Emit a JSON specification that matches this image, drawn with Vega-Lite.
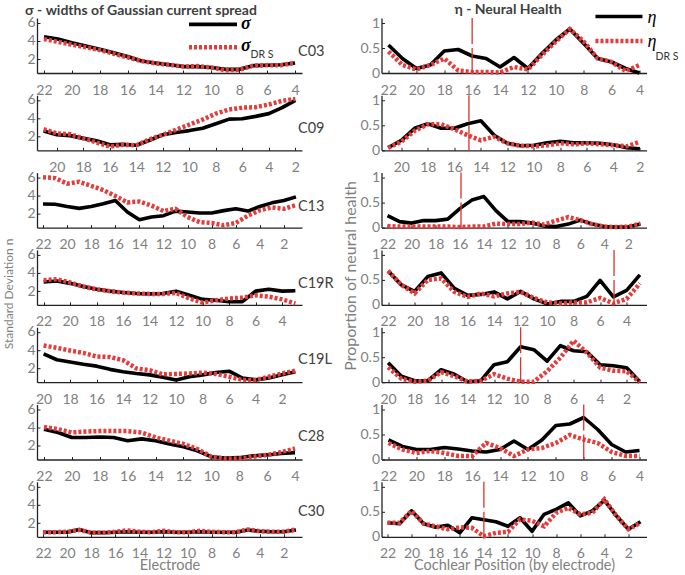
{
"$schema":"https://vega.github.io/schema/vega-lite/v6.json",
"padding":{"left":2,"top":3,"right":0,"bottom":0},
"config":{"view":{"stroke":null},"font":"Lato",
"axis":{"domainColor":"#222","domainWidth":1.3,"tickColor":"#222","tickSize":-3,"tickWidth":1,"labelColor":"#7f7f7f","labelFontSize":14,"labelFont":"Lato","grid":false,"titleColor":"#7f7f7f","titleFont":"Lato","titleFontSize":14.5,"titleFontWeight":"normal","labelPadding":5,"labelOverlap":false,"labelFlush":false},
"axisX":{"labelPadding":13},
"title":{"font":"Lato","fontSize":14,"fontWeight":"bold","color":"#404040","frame":"group"}},
"datasets":{
"sig":[
{"p":"C03","e":22,"a":4.45,"b":4.2},{"p":"C03","e":21,"a":4.2,"b":3.9},{"p":"C03","e":20,"a":3.8,"b":3.6},{"p":"C03","e":19,"a":3.45,"b":3.3},{"p":"C03","e":18,"a":3.1,"b":3.0},{"p":"C03","e":17,"a":2.7,"b":2.6},{"p":"C03","e":16,"a":2.3,"b":2.2},{"p":"C03","e":15,"a":1.8,"b":1.8},{"p":"C03","e":14,"a":1.6,"b":1.55},{"p":"C03","e":13,"a":1.4,"b":1.4},{"p":"C03","e":12,"a":1.2,"b":1.2},{"p":"C03","e":11,"a":1.2,"b":1.25},{"p":"C03","e":10,"a":1.1,"b":1.1},{"p":"C03","e":9,"a":0.9,"b":0.8},{"p":"C03","e":8,"a":0.9,"b":0.85},{"p":"C03","e":7,"a":1.3,"b":1.3},{"p":"C03","e":6,"a":1.35,"b":1.35},{"p":"C03","e":5,"a":1.4,"b":1.35},{"p":"C03","e":4,"a":1.6,"b":1.6},
{"p":"C09","e":21,"a":2.6,"b":2.8},{"p":"C09","e":20,"a":2.2,"b":2.35},{"p":"C09","e":19,"a":2.1,"b":2.25},{"p":"C09","e":18,"a":1.8,"b":1.8},{"p":"C09","e":17,"a":1.55,"b":1.35},{"p":"C09","e":16,"a":1.1,"b":0.9},{"p":"C09","e":15,"a":1.15,"b":1.1},{"p":"C09","e":14,"a":1.05,"b":1.05},{"p":"C09","e":13,"a":1.6,"b":1.7},{"p":"C09","e":12,"a":2.2,"b":2.2},{"p":"C09","e":11,"a":2.45,"b":2.75},{"p":"C09","e":10,"a":2.65,"b":3.3},{"p":"C09","e":9,"a":2.9,"b":3.85},{"p":"C09","e":8,"a":3.4,"b":4.5},{"p":"C09","e":7,"a":3.9,"b":4.95},{"p":"C09","e":6,"a":3.95,"b":5.15},{"p":"C09","e":5,"a":4.2,"b":5.2},{"p":"C09","e":4,"a":4.5,"b":5.5},{"p":"C09","e":3,"a":5.15,"b":5.9},{"p":"C09","e":2,"a":5.95,"b":6.1},
{"p":"C13","e":22,"a":3.07,"b":6.0},{"p":"C13","e":21,"a":3.05,"b":5.9},{"p":"C13","e":20,"a":2.8,"b":5.3},{"p":"C13","e":19,"a":2.6,"b":5.5},{"p":"C13","e":18,"a":2.8,"b":5.05},{"p":"C13","e":17,"a":3.1,"b":4.6},{"p":"C13","e":16,"a":3.45,"b":3.95},{"p":"C13","e":15,"a":2.2,"b":3.25},{"p":"C13","e":14,"a":1.35,"b":3.35},{"p":"C13","e":13,"a":1.65,"b":2.9},{"p":"C13","e":12,"a":1.8,"b":2.3},{"p":"C13","e":11,"a":2.3,"b":2.55},{"p":"C13","e":10,"a":2.2,"b":1.65},{"p":"C13","e":9,"a":2.1,"b":1.1},{"p":"C13","e":8,"a":2.1,"b":1.0},{"p":"C13","e":7,"a":2.35,"b":0.75},{"p":"C13","e":6,"a":2.55,"b":1.0},{"p":"C13","e":5,"a":2.3,"b":1.8},{"p":"C13","e":4,"a":2.8,"b":2.4},{"p":"C13","e":3,"a":3.2,"b":2.7},{"p":"C13","e":2,"a":3.45,"b":2.55},{"p":"C13","e":1,"a":3.85,"b":2.95},
{"p":"C19R","e":22,"a":3.0,"b":3.2},{"p":"C19R","e":21,"a":3.1,"b":3.3},{"p":"C19R","e":20,"a":2.85,"b":2.95},{"p":"C19R","e":19,"a":2.5,"b":2.5},{"p":"C19R","e":18,"a":2.2,"b":2.2},{"p":"C19R","e":17,"a":2.0,"b":2.0},{"p":"C19R","e":16,"a":1.85,"b":1.85},{"p":"C19R","e":15,"a":1.75,"b":1.75},{"p":"C19R","e":14,"a":1.7,"b":1.7},{"p":"C19R","e":13,"a":1.75,"b":1.7},{"p":"C19R","e":12,"a":2.0,"b":1.8},{"p":"C19R","e":11,"a":1.55,"b":1.2},{"p":"C19R","e":10,"a":1.1,"b":0.75},{"p":"C19R","e":9,"a":1.0,"b":1.0},{"p":"C19R","e":8,"a":0.85,"b":1.2},{"p":"C19R","e":7,"a":0.85,"b":1.3},{"p":"C19R","e":6,"a":2.0,"b":1.55},{"p":"C19R","e":5,"a":2.2,"b":1.4},{"p":"C19R","e":4,"a":2.0,"b":1.1},{"p":"C19R","e":3,"a":2.05,"b":0.65},
{"p":"C19L","e":20,"a":3.6,"b":4.5},{"p":"C19L","e":19,"a":2.95,"b":4.25},{"p":"C19L","e":18,"a":2.7,"b":3.95},{"p":"C19L","e":17,"a":2.45,"b":3.7},{"p":"C19L","e":16,"a":2.25,"b":3.3},{"p":"C19L","e":15,"a":1.9,"b":3.25},{"p":"C19L","e":14,"a":1.65,"b":2.9},{"p":"C19L","e":13,"a":1.45,"b":2.0},{"p":"C19L","e":12,"a":1.3,"b":1.8},{"p":"C19L","e":11,"a":1.05,"b":1.35},{"p":"C19L","e":10,"a":0.75,"b":1.4},{"p":"C19L","e":9,"a":1.1,"b":1.45},{"p":"C19L","e":8,"a":1.3,"b":1.55},{"p":"C19L","e":7,"a":1.55,"b":1.4},{"p":"C19L","e":6,"a":1.7,"b":1.1},{"p":"C19L","e":5,"a":0.95,"b":0.75},{"p":"C19L","e":4,"a":0.75,"b":0.75},{"p":"C19L","e":3,"a":0.95,"b":1.1},{"p":"C19L","e":2,"a":1.3,"b":1.45},{"p":"C19L","e":1,"a":1.65,"b":1.75},
{"p":"C28","e":22,"a":3.8,"b":4.05},{"p":"C28","e":21,"a":3.45,"b":3.8},{"p":"C28","e":20,"a":2.9,"b":3.45},{"p":"C28","e":19,"a":2.9,"b":3.55},{"p":"C28","e":18,"a":2.95,"b":3.6},{"p":"C28","e":17,"a":2.9,"b":3.6},{"p":"C28","e":16,"a":2.55,"b":3.6},{"p":"C28","e":15,"a":2.75,"b":3.45},{"p":"C28","e":14,"a":2.55,"b":2.9},{"p":"C28","e":13,"a":2.2,"b":2.55},{"p":"C28","e":12,"a":1.9,"b":2.2},{"p":"C28","e":11,"a":1.45,"b":1.65},{"p":"C28","e":10,"a":0.8,"b":0.8},{"p":"C28","e":9,"a":0.65,"b":0.6},{"p":"C28","e":8,"a":0.7,"b":0.6},{"p":"C28","e":7,"a":0.9,"b":0.8},{"p":"C28","e":6,"a":1.0,"b":1.0},{"p":"C28","e":5,"a":1.15,"b":1.3},{"p":"C28","e":4,"a":1.25,"b":1.7},
{"p":"C30","e":22,"a":1.0,"b":1.0},{"p":"C30","e":21,"a":1.0,"b":1.0},{"p":"C30","e":20,"a":1.0,"b":1.05},{"p":"C30","e":19,"a":1.3,"b":1.25},{"p":"C30","e":18,"a":0.95,"b":0.95},{"p":"C30","e":17,"a":0.95,"b":0.95},{"p":"C30","e":16,"a":1.0,"b":1.05},{"p":"C30","e":15,"a":1.05,"b":1.2},{"p":"C30","e":14,"a":1.0,"b":1.05},{"p":"C30","e":13,"a":1.0,"b":1.0},{"p":"C30","e":12,"a":1.05,"b":1.15},{"p":"C30","e":11,"a":1.0,"b":1.0},{"p":"C30","e":10,"a":1.0,"b":1.0},{"p":"C30","e":9,"a":1.05,"b":1.15},{"p":"C30","e":8,"a":1.0,"b":1.05},{"p":"C30","e":7,"a":1.0,"b":1.0},{"p":"C30","e":6,"a":1.0,"b":1.0},{"p":"C30","e":5,"a":1.25,"b":1.3},{"p":"C30","e":4,"a":1.1,"b":1.1},{"p":"C30","e":3,"a":1.05,"b":1.05},{"p":"C30","e":2,"a":1.05,"b":1.05},{"p":"C30","e":1,"a":1.25,"b":1.3}
],
"eta":[
{"p":"C03","e":22,"a":0.56,"b":0.43},{"p":"C03","e":21,"a":0.29,"b":0.16},{"p":"C03","e":20,"a":0.09,"b":0.07},{"p":"C03","e":19,"a":0.16,"b":0.16},{"p":"C03","e":18,"a":0.44,"b":0.29},{"p":"C03","e":17,"a":0.47,"b":0.05},{"p":"C03","e":16,"a":0.34,"b":0.02},{"p":"C03","e":15,"a":0.29,"b":0.02},{"p":"C03","e":14,"a":0.12,"b":0.01},{"p":"C03","e":13,"a":0.31,"b":0.12},{"p":"C03","e":12,"a":0.09,"b":0.07},{"p":"C03","e":11,"a":0.39,"b":0.36},{"p":"C03","e":10,"a":0.66,"b":0.63},{"p":"C03","e":9,"a":0.88,"b":0.88},{"p":"C03","e":8,"a":0.59,"b":0.63},{"p":"C03","e":7,"a":0.29,"b":0.29},{"p":"C03","e":6,"a":0.22,"b":0.22},{"p":"C03","e":5,"a":0.09,"b":0.04},{"p":"C03","e":4,"a":0.0,"b":0.16},
{"p":"C09","e":21,"a":0.05,"b":0.05},{"p":"C09","e":20,"a":0.2,"b":0.17},{"p":"C09","e":19,"a":0.44,"b":0.39},{"p":"C09","e":18,"a":0.53,"b":0.52},{"p":"C09","e":17,"a":0.44,"b":0.52},{"p":"C09","e":16,"a":0.44,"b":0.42},{"p":"C09","e":15,"a":0.53,"b":0.3},{"p":"C09","e":14,"a":0.59,"b":0.2},{"p":"C09","e":13,"a":0.3,"b":0.27},{"p":"C09","e":12,"a":0.14,"b":0.14},{"p":"C09","e":11,"a":0.09,"b":0.09},{"p":"C09","e":10,"a":0.1,"b":0.08},{"p":"C09","e":9,"a":0.15,"b":0.1},{"p":"C09","e":8,"a":0.18,"b":0.14},{"p":"C09","e":7,"a":0.15,"b":0.12},{"p":"C09","e":6,"a":0.15,"b":0.14},{"p":"C09","e":5,"a":0.14,"b":0.12},{"p":"C09","e":4,"a":0.11,"b":0.1},{"p":"C09","e":3,"a":0.05,"b":0.08},{"p":"C09","e":2,"a":0.03,"b":0.17},
{"p":"C13","e":22,"a":0.24,"b":0.03},{"p":"C13","e":21,"a":0.12,"b":0.02},{"p":"C13","e":20,"a":0.09,"b":0.02},{"p":"C13","e":19,"a":0.14,"b":0.02},{"p":"C13","e":18,"a":0.14,"b":0.02},{"p":"C13","e":17,"a":0.17,"b":0.02},{"p":"C13","e":16,"a":0.38,"b":0.01},{"p":"C13","e":15,"a":0.55,"b":0.02},{"p":"C13","e":14,"a":0.62,"b":0.02},{"p":"C13","e":13,"a":0.34,"b":0.08},{"p":"C13","e":12,"a":0.12,"b":0.07},{"p":"C13","e":11,"a":0.12,"b":0.07},{"p":"C13","e":10,"a":0.09,"b":0.1},{"p":"C13","e":9,"a":0.03,"b":0.06},{"p":"C13","e":8,"a":0.02,"b":0.14},{"p":"C13","e":7,"a":0.07,"b":0.21},{"p":"C13","e":6,"a":0.15,"b":0.15},{"p":"C13","e":5,"a":0.07,"b":0.07},{"p":"C13","e":4,"a":0.02,"b":0.02},{"p":"C13","e":3,"a":0.01,"b":0.01},{"p":"C13","e":2,"a":0.01,"b":0.02},{"p":"C13","e":1,"a":0.07,"b":0.08},
{"p":"C19R","e":22,"a":0.68,"b":0.68},{"p":"C19R","e":21,"a":0.4,"b":0.4},{"p":"C19R","e":20,"a":0.27,"b":0.23},{"p":"C19R","e":19,"a":0.57,"b":0.5},{"p":"C19R","e":18,"a":0.64,"b":0.53},{"p":"C19R","e":17,"a":0.33,"b":0.26},{"p":"C19R","e":16,"a":0.19,"b":0.16},{"p":"C19R","e":15,"a":0.21,"b":0.23},{"p":"C19R","e":14,"a":0.26,"b":0.17},{"p":"C19R","e":13,"a":0.12,"b":0.23},{"p":"C19R","e":12,"a":0.27,"b":0.26},{"p":"C19R","e":11,"a":0.12,"b":0.14},{"p":"C19R","e":10,"a":0.02,"b":0.05},{"p":"C19R","e":9,"a":0.07,"b":0.03},{"p":"C19R","e":8,"a":0.07,"b":0.05},{"p":"C19R","e":7,"a":0.17,"b":0.05},{"p":"C19R","e":6,"a":0.49,"b":0.14},{"p":"C19R","e":5,"a":0.16,"b":0.03},{"p":"C19R","e":4,"a":0.29,"b":0.12},{"p":"C19R","e":3,"a":0.6,"b":0.43},
{"p":"C19L","e":20,"a":0.39,"b":0.3},{"p":"C19L","e":19,"a":0.12,"b":0.07},{"p":"C19L","e":18,"a":0.03,"b":0.01},{"p":"C19L","e":17,"a":0.03,"b":0.03},{"p":"C19L","e":16,"a":0.25,"b":0.2},{"p":"C19L","e":15,"a":0.16,"b":0.12},{"p":"C19L","e":14,"a":0.01,"b":0.01},{"p":"C19L","e":13,"a":0.03,"b":0.03},{"p":"C19L","e":12,"a":0.35,"b":0.16},{"p":"C19L","e":11,"a":0.41,"b":0.07},{"p":"C19L","e":10,"a":0.71,"b":0.01},{"p":"C19L","e":9,"a":0.65,"b":0.01},{"p":"C19L","e":8,"a":0.42,"b":0.22},{"p":"C19L","e":7,"a":0.73,"b":0.49},{"p":"C19L","e":6,"a":0.63,"b":0.83},{"p":"C19L","e":5,"a":0.61,"b":0.59},{"p":"C19L","e":4,"a":0.35,"b":0.29},{"p":"C19L","e":3,"a":0.33,"b":0.23},{"p":"C19L","e":2,"a":0.29,"b":0.22},{"p":"C19L","e":1,"a":0.01,"b":0.0},
{"p":"C28","e":22,"a":0.39,"b":0.33},{"p":"C28","e":21,"a":0.26,"b":0.2},{"p":"C28","e":20,"a":0.2,"b":0.13},{"p":"C28","e":19,"a":0.2,"b":0.17},{"p":"C28","e":18,"a":0.24,"b":0.13},{"p":"C28","e":17,"a":0.21,"b":0.07},{"p":"C28","e":16,"a":0.17,"b":0.07},{"p":"C28","e":15,"a":0.15,"b":0.33},{"p":"C28","e":14,"a":0.2,"b":0.23},{"p":"C28","e":13,"a":0.37,"b":0.07},{"p":"C28","e":12,"a":0.2,"b":0.2},{"p":"C28","e":11,"a":0.39,"b":0.23},{"p":"C28","e":10,"a":0.68,"b":0.33},{"p":"C28","e":9,"a":0.71,"b":0.49},{"p":"C28","e":8,"a":0.84,"b":0.4},{"p":"C28","e":7,"a":0.6,"b":0.33},{"p":"C28","e":6,"a":0.3,"b":0.15},{"p":"C28","e":5,"a":0.15,"b":0.07},{"p":"C28","e":4,"a":0.18,"b":0.07},
{"p":"C30","e":22,"a":0.28,"b":0.28},{"p":"C30","e":21,"a":0.26,"b":0.28},{"p":"C30","e":20,"a":0.52,"b":0.52},{"p":"C30","e":19,"a":0.26,"b":0.26},{"p":"C30","e":18,"a":0.19,"b":0.21},{"p":"C30","e":17,"a":0.23,"b":0.15},{"p":"C30","e":16,"a":0.08,"b":0.19},{"p":"C30","e":15,"a":0.38,"b":0.18},{"p":"C30","e":14,"a":0.34,"b":0.01},{"p":"C30","e":13,"a":0.3,"b":0.08},{"p":"C30","e":12,"a":0.21,"b":0.1},{"p":"C30","e":11,"a":0.38,"b":0.35},{"p":"C30","e":10,"a":0.11,"b":0.32},{"p":"C30","e":9,"a":0.45,"b":0.21},{"p":"C30","e":8,"a":0.55,"b":0.48},{"p":"C30","e":7,"a":0.68,"b":0.58},{"p":"C30","e":6,"a":0.42,"b":0.45},{"p":"C30","e":5,"a":0.52,"b":0.48},{"p":"C30","e":4,"a":0.73,"b":0.75},{"p":"C30","e":3,"a":0.42,"b":0.42},{"p":"C30","e":2,"a":0.15,"b":0.15},{"p":"C30","e":1,"a":0.3,"b":0.28}
],
"lab":[{"p":"C03","e":3.79,"v":2.8,"t":"C03"},{"p":"C09","e":1.8,"v":2.8,"t":"C09"},{"p":"C13","e":0.84,"v":2.75,"t":"C13"},{"p":"C19R","e":2.8,"v":2.75,"t":"C19R"},{"p":"C19L","e":0.8,"v":2.95,"t":"C19L"},{"p":"C28","e":3.79,"v":2.95,"t":"C28"},{"p":"C30","e":0.84,"v":3.2,"t":"C30"}],
"mk":[{"p":"C03","e":16},{"p":"C09","e":14.9},{"p":"C13","e":15.9},{"p":"C19R","e":4.95},{"p":"C19L","e":10},{"p":"C28","e":8},{"p":"C30","e":14}],
"legS":[{"s":"a","e":11.6,"x2":8.16,"v":5.8},{"s":"b","e":11.6,"x2":8.16,"v":3.3}],
"legSt":[{"t":"σ","e":7.87,"v":5.85,"k":"g"},{"t":"σ","e":7.87,"v":3.4,"k":"g"},{"t":"DR S","e":7.2,"v":2.5,"k":"s"}],
"legE":[{"s":"a","e":7.16,"x2":3.79,"v":1.13},{"s":"b","e":7.16,"x2":3.79,"v":0.64}],
"legEt":[{"t":"η","e":3.43,"v":1.1,"k":"g"},{"t":"η","e":3.43,"v":0.63,"k":"g"},{"t":"DR S","e":2.86,"v":0.33,"k":"s"}]
},
"hconcat":[
{"vconcat":[
{"width":265,"height":55,"title":{"text":"σ - widths of Gaussian current spread","anchor":"start","dx":-12,"dy":9,"offset":6},
"encoding":{"x":{"field":"e","type":"quantitative","scale":{"domain":[3.5,22.5],"reverse":true,"nice":false,"zero":false},"axis":{"values":[22,20,18,16,14,12,10,8,6,4],"title":null}},
"y":{"field":"v","type":"quantitative","scale":{"domain":[0.5,6.5],"nice":false,"zero":false},"axis":{"values":[2,4,6],"title":null}}},
"layer":[
{"data":{"name":"sig"},"transform":[{"filter":{"field":"p","equal":"C03"}}],"mark":{"type":"line","color":"#000","strokeWidth":3.6,"strokeJoin":"round"},"encoding":{"y":{"field":"a","type":"quantitative"}}},
{"data":{"name":"sig"},"transform":[{"filter":{"field":"p","equal":"C03"}}],"mark":{"type":"line","color":"#e53b3b","strokeWidth":4.5,"strokeDash":[3,2]},"encoding":{"y":{"field":"b","type":"quantitative"}}},
{"data":{"name":"lab"},"transform":[{"filter":{"field":"p","equal":"C03"}}],"mark":{"type":"text","align":"left","baseline":"middle","fontSize":14.5,"color":"#404040"},"encoding":{"text":{"field":"t"}}},
{"data":{"name":"legS"},"transform":[{"filter":{"field":"s","equal":"a"}}],"mark":{"type":"rule","color":"#000","strokeWidth":3.6},"encoding":{"x2":{"field":"x2"}}},
{"data":{"name":"legS"},"transform":[{"filter":{"field":"s","equal":"b"}}],"mark":{"type":"rule","color":"#e53b3b","strokeWidth":4.5,"strokeDash":[3,2]},"encoding":{"x2":{"field":"x2"}}},
{"data":{"name":"legSt"},"transform":[{"filter":{"field":"k","equal":"g"}}],"mark":{"type":"text","align":"left","baseline":"middle","fontSize":18,"font":"Liberation Serif","fontStyle":"italic","fontWeight":"bold","color":"#000"},"encoding":{"text":{"field":"t"}}},
{"data":{"name":"legSt"},"transform":[{"filter":{"field":"k","equal":"s"}}],"mark":{"type":"text","align":"left","baseline":"middle","fontSize":10.5,"color":"#333"},"encoding":{"text":{"field":"t"}}}
]},
{"width":265,"height":55,
"encoding":{"x":{"field":"e","type":"quantitative","scale":{"domain":[1.5,21.5],"reverse":true,"nice":false,"zero":false},"axis":{"values":[20,18,16,14,12,10,8,6,4,2],"title":null}},
"y":{"field":"v","type":"quantitative","scale":{"domain":[0.5,6.5],"nice":false,"zero":false},"axis":{"values":[2,4,6],"title":null}}},
"layer":[
{"data":{"name":"sig"},"transform":[{"filter":{"field":"p","equal":"C09"}}],"mark":{"type":"line","color":"#000","strokeWidth":3.6,"strokeJoin":"round"},"encoding":{"y":{"field":"a","type":"quantitative"}}},
{"data":{"name":"sig"},"transform":[{"filter":{"field":"p","equal":"C09"}}],"mark":{"type":"line","color":"#e53b3b","strokeWidth":4.5,"strokeDash":[3,2]},"encoding":{"y":{"field":"b","type":"quantitative"}}},
{"data":{"name":"lab"},"transform":[{"filter":{"field":"p","equal":"C09"}}],"mark":{"type":"text","align":"left","baseline":"middle","fontSize":14.5,"color":"#404040"},"encoding":{"text":{"field":"t"}}}
]},
{"width":265,"height":55,
"encoding":{"x":{"field":"e","type":"quantitative","scale":{"domain":[0.5,22.5],"reverse":true,"nice":false,"zero":false},"axis":{"values":[22,20,18,16,14,12,10,8,6,4,2],"title":null}},
"y":{"field":"v","type":"quantitative","scale":{"domain":[0.5,6.5],"nice":false,"zero":false},"axis":{"values":[2,4,6],"title":null}}},
"layer":[
{"data":{"name":"sig"},"transform":[{"filter":{"field":"p","equal":"C13"}}],"mark":{"type":"line","color":"#000","strokeWidth":3.6,"strokeJoin":"round"},"encoding":{"y":{"field":"a","type":"quantitative"}}},
{"data":{"name":"sig"},"transform":[{"filter":{"field":"p","equal":"C13"}}],"mark":{"type":"line","color":"#e53b3b","strokeWidth":4.5,"strokeDash":[3,2]},"encoding":{"y":{"field":"b","type":"quantitative"}}},
{"data":{"name":"lab"},"transform":[{"filter":{"field":"p","equal":"C13"}}],"mark":{"type":"text","align":"left","baseline":"middle","fontSize":14.5,"color":"#404040"},"encoding":{"text":{"field":"t"}}}
]},
{"width":265,"height":55,
"encoding":{"x":{"field":"e","type":"quantitative","scale":{"domain":[2.5,22.5],"reverse":true,"nice":false,"zero":false},"axis":{"values":[22,20,18,16,14,12,10,8,6,4],"title":null}},
"y":{"field":"v","type":"quantitative","scale":{"domain":[0.5,6.5],"nice":false,"zero":false},"axis":{"values":[2,4,6],"title":"Standard Deviation n","titlePadding":11,"titleFontSize":12,"titleY":43.5}}},
"layer":[
{"data":{"name":"sig"},"transform":[{"filter":{"field":"p","equal":"C19R"}}],"mark":{"type":"line","color":"#000","strokeWidth":3.6,"strokeJoin":"round"},"encoding":{"y":{"field":"a","type":"quantitative"}}},
{"data":{"name":"sig"},"transform":[{"filter":{"field":"p","equal":"C19R"}}],"mark":{"type":"line","color":"#e53b3b","strokeWidth":4.5,"strokeDash":[3,2]},"encoding":{"y":{"field":"b","type":"quantitative"}}},
{"data":{"name":"lab"},"transform":[{"filter":{"field":"p","equal":"C19R"}}],"mark":{"type":"text","align":"left","baseline":"middle","fontSize":14.5,"color":"#404040"},"encoding":{"text":{"field":"t"}}}
]},
{"width":265,"height":55,
"encoding":{"x":{"field":"e","type":"quantitative","scale":{"domain":[0.5,20.5],"reverse":true,"nice":false,"zero":false},"axis":{"values":[20,18,16,14,12,10,8,6,4,2],"title":null}},
"y":{"field":"v","type":"quantitative","scale":{"domain":[0.5,6.5],"nice":false,"zero":false},"axis":{"values":[2,4,6],"title":null}}},
"layer":[
{"data":{"name":"sig"},"transform":[{"filter":{"field":"p","equal":"C19L"}}],"mark":{"type":"line","color":"#000","strokeWidth":3.6,"strokeJoin":"round"},"encoding":{"y":{"field":"a","type":"quantitative"}}},
{"data":{"name":"sig"},"transform":[{"filter":{"field":"p","equal":"C19L"}}],"mark":{"type":"line","color":"#e53b3b","strokeWidth":4.5,"strokeDash":[3,2]},"encoding":{"y":{"field":"b","type":"quantitative"}}},
{"data":{"name":"lab"},"transform":[{"filter":{"field":"p","equal":"C19L"}}],"mark":{"type":"text","align":"left","baseline":"middle","fontSize":14.5,"color":"#404040"},"encoding":{"text":{"field":"t"}}}
]},
{"width":265,"height":55,
"encoding":{"x":{"field":"e","type":"quantitative","scale":{"domain":[3.5,22.5],"reverse":true,"nice":false,"zero":false},"axis":{"values":[22,20,18,16,14,12,10,8,6,4],"title":null}},
"y":{"field":"v","type":"quantitative","scale":{"domain":[0.5,6.5],"nice":false,"zero":false},"axis":{"values":[2,4,6],"title":null}}},
"layer":[
{"data":{"name":"sig"},"transform":[{"filter":{"field":"p","equal":"C28"}}],"mark":{"type":"line","color":"#000","strokeWidth":3.6,"strokeJoin":"round"},"encoding":{"y":{"field":"a","type":"quantitative"}}},
{"data":{"name":"sig"},"transform":[{"filter":{"field":"p","equal":"C28"}}],"mark":{"type":"line","color":"#e53b3b","strokeWidth":4.5,"strokeDash":[3,2]},"encoding":{"y":{"field":"b","type":"quantitative"}}},
{"data":{"name":"lab"},"transform":[{"filter":{"field":"p","equal":"C28"}}],"mark":{"type":"text","align":"left","baseline":"middle","fontSize":14.5,"color":"#404040"},"encoding":{"text":{"field":"t"}}}
]},
{"width":265,"height":55,
"encoding":{"x":{"field":"e","type":"quantitative","scale":{"domain":[0.5,22.5],"reverse":true,"nice":false,"zero":false},"axis":{"values":[22,20,18,16,14,12,10,8,6,4,2],"title":"Electrode","titlePadding":-2}},
"y":{"field":"v","type":"quantitative","scale":{"domain":[0.5,6.5],"nice":false,"zero":false},"axis":{"values":[2,4,6],"title":null}}},
"layer":[
{"data":{"name":"sig"},"transform":[{"filter":{"field":"p","equal":"C30"}}],"mark":{"type":"line","color":"#000","strokeWidth":3.6,"strokeJoin":"round"},"encoding":{"y":{"field":"a","type":"quantitative"}}},
{"data":{"name":"sig"},"transform":[{"filter":{"field":"p","equal":"C30"}}],"mark":{"type":"line","color":"#e53b3b","strokeWidth":4.5,"strokeDash":[3,2]},"encoding":{"y":{"field":"b","type":"quantitative"}}},
{"data":{"name":"lab"},"transform":[{"filter":{"field":"p","equal":"C30"}}],"mark":{"type":"text","align":"left","baseline":"middle","fontSize":14.5,"color":"#404040"},"encoding":{"text":{"field":"t"}}}
]}
],"spacing":22.3,"bounds":"flush"},
{"vconcat":[
{"width":265,"height":55,"title":{"text":"η - Neural Health","anchor":"middle","dx":-6,"dy":14,"offset":6},
"encoding":{"x":{"field":"e","type":"quantitative","scale":{"domain":[3.5,22.5],"reverse":true,"nice":false,"zero":false},"axis":{"values":[22,20,18,16,14,12,10,8,6,4],"title":null}},
"y":{"field":"v","type":"quantitative","scale":{"domain":[0,1.1],"nice":false,"zero":false},"axis":{"values":[0,0.5,1],"format":"~g","title":null}}},
"layer":[
{"data":{"name":"eta"},"transform":[{"filter":{"field":"p","equal":"C03"}}],"mark":{"type":"line","color":"#000","strokeWidth":3.6,"strokeJoin":"round"},"encoding":{"y":{"field":"a","type":"quantitative"}}},
{"data":{"name":"eta"},"transform":[{"filter":{"field":"p","equal":"C03"}}],"mark":{"type":"line","color":"#e53b3b","strokeWidth":4.5,"strokeDash":[3,2]},"encoding":{"y":{"field":"b","type":"quantitative"}}},
{"data":{"name":"mk"},"transform":[{"filter":{"field":"p","equal":"C03"}}],"mark":{"type":"rule","color":"#d8342c","strokeWidth":1.3,"strokeDash":[26,4]},"encoding":{"y":{"value":0},"y2":{"value":55}}},
{"data":{"name":"legE"},"transform":[{"filter":{"field":"s","equal":"a"}}],"mark":{"type":"rule","color":"#000","strokeWidth":3.6},"encoding":{"x2":{"field":"x2"}}},
{"data":{"name":"legE"},"transform":[{"filter":{"field":"s","equal":"b"}}],"mark":{"type":"rule","color":"#e53b3b","strokeWidth":4.5,"strokeDash":[3,2]},"encoding":{"x2":{"field":"x2"}}},
{"data":{"name":"legEt"},"transform":[{"filter":{"field":"k","equal":"g"}}],"mark":{"type":"text","align":"left","baseline":"middle","fontSize":18,"font":"Liberation Serif","fontStyle":"italic","color":"#000"},"encoding":{"text":{"field":"t"}}},
{"data":{"name":"legEt"},"transform":[{"filter":{"field":"k","equal":"s"}}],"mark":{"type":"text","align":"left","baseline":"middle","fontSize":10.5,"color":"#333"},"encoding":{"text":{"field":"t"}}}
]},
{"width":265,"height":55,
"encoding":{"x":{"field":"e","type":"quantitative","scale":{"domain":[1.5,21.5],"reverse":true,"nice":false,"zero":false},"axis":{"values":[20,18,16,14,12,10,8,6,4,2],"title":null}},
"y":{"field":"v","type":"quantitative","scale":{"domain":[0,1.1],"nice":false,"zero":false},"axis":{"values":[0,0.5,1],"format":"~g","title":null}}},
"layer":[
{"data":{"name":"eta"},"transform":[{"filter":{"field":"p","equal":"C09"}}],"mark":{"type":"line","color":"#000","strokeWidth":3.6,"strokeJoin":"round"},"encoding":{"y":{"field":"a","type":"quantitative"}}},
{"data":{"name":"eta"},"transform":[{"filter":{"field":"p","equal":"C09"}}],"mark":{"type":"line","color":"#e53b3b","strokeWidth":4.5,"strokeDash":[3,2]},"encoding":{"y":{"field":"b","type":"quantitative"}}},
{"data":{"name":"mk"},"transform":[{"filter":{"field":"p","equal":"C09"}}],"mark":{"type":"rule","color":"#d8342c","strokeWidth":1.3,"strokeDash":[26,4]},"encoding":{"y":{"value":0},"y2":{"value":55}}}
]},
{"width":265,"height":55,
"encoding":{"x":{"field":"e","type":"quantitative","scale":{"domain":[0.5,22.5],"reverse":true,"nice":false,"zero":false},"axis":{"values":[22,20,18,16,14,12,10,8,6,4,2],"title":null}},
"y":{"field":"v","type":"quantitative","scale":{"domain":[0,1.1],"nice":false,"zero":false},"axis":{"values":[0,0.5,1],"format":"~g","title":null}}},
"layer":[
{"data":{"name":"eta"},"transform":[{"filter":{"field":"p","equal":"C13"}}],"mark":{"type":"line","color":"#000","strokeWidth":3.6,"strokeJoin":"round"},"encoding":{"y":{"field":"a","type":"quantitative"}}},
{"data":{"name":"eta"},"transform":[{"filter":{"field":"p","equal":"C13"}}],"mark":{"type":"line","color":"#e53b3b","strokeWidth":4.5,"strokeDash":[3,2]},"encoding":{"y":{"field":"b","type":"quantitative"}}},
{"data":{"name":"mk"},"transform":[{"filter":{"field":"p","equal":"C13"}}],"mark":{"type":"rule","color":"#d8342c","strokeWidth":1.3,"strokeDash":[26,4]},"encoding":{"y":{"value":0},"y2":{"value":55}}}
]},
{"width":265,"height":55,
"encoding":{"x":{"field":"e","type":"quantitative","scale":{"domain":[2.5,22.5],"reverse":true,"nice":false,"zero":false},"axis":{"values":[22,20,18,16,14,12,10,8,6,4],"title":null}},
"y":{"field":"v","type":"quantitative","scale":{"domain":[0,1.1],"nice":false,"zero":false},"axis":{"values":[0,0.5,1],"format":"~g","title":"Proportion of neural health","titlePadding":1,"titleFontSize":16,"titleY":25.5}}},
"layer":[
{"data":{"name":"eta"},"transform":[{"filter":{"field":"p","equal":"C19R"}}],"mark":{"type":"line","color":"#000","strokeWidth":3.6,"strokeJoin":"round"},"encoding":{"y":{"field":"a","type":"quantitative"}}},
{"data":{"name":"eta"},"transform":[{"filter":{"field":"p","equal":"C19R"}}],"mark":{"type":"line","color":"#e53b3b","strokeWidth":4.5,"strokeDash":[3,2]},"encoding":{"y":{"field":"b","type":"quantitative"}}},
{"data":{"name":"mk"},"transform":[{"filter":{"field":"p","equal":"C19R"}}],"mark":{"type":"rule","color":"#d8342c","strokeWidth":1.3,"strokeDash":[26,4]},"encoding":{"y":{"value":0},"y2":{"value":55}}}
]},
{"width":265,"height":55,
"encoding":{"x":{"field":"e","type":"quantitative","scale":{"domain":[0.5,20.5],"reverse":true,"nice":false,"zero":false},"axis":{"values":[20,18,16,14,12,10,8,6,4,2],"title":null}},
"y":{"field":"v","type":"quantitative","scale":{"domain":[0,1.1],"nice":false,"zero":false},"axis":{"values":[0,0.5,1],"format":"~g","title":null}}},
"layer":[
{"data":{"name":"eta"},"transform":[{"filter":{"field":"p","equal":"C19L"}}],"mark":{"type":"line","color":"#000","strokeWidth":3.6,"strokeJoin":"round"},"encoding":{"y":{"field":"a","type":"quantitative"}}},
{"data":{"name":"eta"},"transform":[{"filter":{"field":"p","equal":"C19L"}}],"mark":{"type":"line","color":"#e53b3b","strokeWidth":4.5,"strokeDash":[3,2]},"encoding":{"y":{"field":"b","type":"quantitative"}}},
{"data":{"name":"mk"},"transform":[{"filter":{"field":"p","equal":"C19L"}}],"mark":{"type":"rule","color":"#d8342c","strokeWidth":1.3,"strokeDash":[26,4]},"encoding":{"y":{"value":0},"y2":{"value":55}}}
]},
{"width":265,"height":55,
"encoding":{"x":{"field":"e","type":"quantitative","scale":{"domain":[3.5,22.5],"reverse":true,"nice":false,"zero":false},"axis":{"values":[22,20,18,16,14,12,10,8,6,4],"title":null}},
"y":{"field":"v","type":"quantitative","scale":{"domain":[0,1.1],"nice":false,"zero":false},"axis":{"values":[0,0.5,1],"format":"~g","title":null}}},
"layer":[
{"data":{"name":"eta"},"transform":[{"filter":{"field":"p","equal":"C28"}}],"mark":{"type":"line","color":"#000","strokeWidth":3.6,"strokeJoin":"round"},"encoding":{"y":{"field":"a","type":"quantitative"}}},
{"data":{"name":"eta"},"transform":[{"filter":{"field":"p","equal":"C28"}}],"mark":{"type":"line","color":"#e53b3b","strokeWidth":4.5,"strokeDash":[3,2]},"encoding":{"y":{"field":"b","type":"quantitative"}}},
{"data":{"name":"mk"},"transform":[{"filter":{"field":"p","equal":"C28"}}],"mark":{"type":"rule","color":"#d8342c","strokeWidth":1.3,"strokeDash":[26,4]},"encoding":{"y":{"value":0},"y2":{"value":55}}}
]},
{"width":265,"height":55,
"encoding":{"x":{"field":"e","type":"quantitative","scale":{"domain":[0.5,22.5],"reverse":true,"nice":false,"zero":false},"axis":{"values":[22,20,18,16,14,12,10,8,6,4,2],"title":"Cochlear Position (by electrode)","titlePadding":-2}},
"y":{"field":"v","type":"quantitative","scale":{"domain":[0,1.1],"nice":false,"zero":false},"axis":{"values":[0,0.5,1],"format":"~g","title":null}}},
"layer":[
{"data":{"name":"eta"},"transform":[{"filter":{"field":"p","equal":"C30"}}],"mark":{"type":"line","color":"#000","strokeWidth":3.6,"strokeJoin":"round"},"encoding":{"y":{"field":"a","type":"quantitative"}}},
{"data":{"name":"eta"},"transform":[{"filter":{"field":"p","equal":"C30"}}],"mark":{"type":"line","color":"#e53b3b","strokeWidth":4.5,"strokeDash":[3,2]},"encoding":{"y":{"field":"b","type":"quantitative"}}},
{"data":{"name":"mk"},"transform":[{"filter":{"field":"p","equal":"C30"}}],"mark":{"type":"rule","color":"#d8342c","strokeWidth":1.3,"strokeDash":[26,4]},"encoding":{"y":{"value":0},"y2":{"value":55}}}
]}
],"spacing":22.3,"bounds":"flush"}
],
"spacing":8.5
}
